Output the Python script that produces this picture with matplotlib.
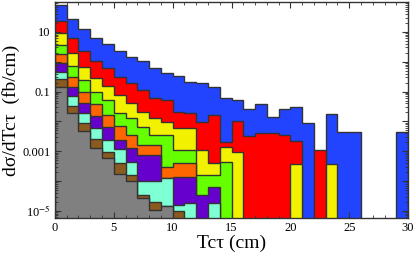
import numpy as np
import matplotlib
matplotlib.use("Agg")
import matplotlib.pyplot as plt
from matplotlib.ticker import FixedLocator, FixedFormatter, LogLocator, MultipleLocator

# -----------------------------------------------------------------------------
# Data: dsigma/dT c tau per 1 cm bin (0..30 cm), one array per curve
# 0 means the curve has no entry in that bin
# -----------------------------------------------------------------------------
edges = np.arange(0, 31, 1)

blue = [80, 26.7, 12.3, 6.4, 3.9, 2.2, 1.48, 1.06, 0.60, 0.43,
        0.333, 0.214, 0.189, 0.139, 0.0622, 0.052, 0.0266, 0.0382, 0.0137, 0.0266,
        0.031, 0.0090, 0, 0.0176, 0.00449, 0.00449, 0, 0, 0, 0.00449]
red = [23.4, 6.14, 2.36, 1.09, 0.60, 0.315, 0.198, 0.113, 0.0608, 0.052,
       0.0211, 0.0186, 0.00972, 0.0163, 0.00207, 0.0105, 0.00322, 0.00415, 0.00415, 0.0034,
       0.0022, 0, 0.00109, 0, 0, 0, 0, 0, 0, 0]
yellow = [9.04, 1.93, 0.684, 0.279, 0.154, 0.0766, 0.0403, 0.0211, 0.0129, 0.0097,
          0.00598, 0.00598, 0.00109, 0.00039, 0.00141, 0.000934, 0, 0, 0, 0,
          0.00037, 0, 0, 0.00037, 0, 0, 0, 0, 0, 0]
green = [3.66, 0.739, 0.244, 0.0989, 0.052, 0.0186, 0.0127, 0.0063, 0.00348, 0.00348,
         0.00109, 0.00109, 0.000158, 0.000158, 0.000441, 0, 0, 0, 0, 0,
         0, 0, 0, 0, 0, 0, 0, 0, 0, 0]
orange = [1.78, 0.315, 0.0989, 0.0382, 0.0163, 0.00697, 0.00348, 0.0016, 0.0016, 0.0003,
          0.00039, 0.00039, 0, 0, 0, 0, 0, 0, 0, 0,
          0, 0, 0, 0, 0, 0, 0, 0, 0, 0]
purple = [0.889, 0.146, 0.0403, 0.0151, 0.0063, 0.00236, 0.00124, 0.00074, 0.00074, 0.000125,
          0.000132, 0.000132, 3.36e-5, 6.38e-5, 0, 0, 0, 0, 0, 0,
          0, 0, 0, 0, 0, 0, 0, 0, 0, 0]
aqua = [0.464, 0.0709, 0.0186, 0.00612, 0.00236, 0.00115, 0.000441, 0.000102, 0.000102, 0.000122,
        1.55e-5, 1.77e-5, 0, 1.77e-5, 0, 0, 0, 0, 0, 0,
        0, 0, 0, 0, 0, 0, 0, 0, 0, 0]
brown = [0.258, 0.0327, 0.0086, 0.0025, 0.000956, 0.00039, 0.000158, 3.36e-5, 2.0e-5, 1.44e-5,
         1.0e-5, 0, 0, 0, 0, 0, 0, 0, 0, 0,
         0, 0, 0, 0, 0, 0, 0, 0, 0, 0]
gray = [0.139, 0.0186, 0.00474, 0.0013, 0.000574, 0.000171, 0.000102, 2.6e-5, 1.05e-5, 1.44e-5,
        0, 0, 0, 0, 0, 0, 0, 0, 0, 0,
        0, 0, 0, 0, 0, 0, 0, 0, 0, 0]

series = [blue, red, yellow, green, orange, purple, aqua, brown, gray]
colors = ['#2244ff', '#ff0000', '#f2f200', '#66ff00', '#ff6600',
          '#6600cc', '#7fffd4', '#8b5a1e', '#808080']

# -----------------------------------------------------------------------------
# Plot
# -----------------------------------------------------------------------------
plt.rcParams['font.family'] = ['Liberation Serif', 'DejaVu Serif']
plt.rcParams['mathtext.fontset'] = 'stix'

fig = plt.figure(figsize=(4.16, 2.56), dpi=100)
ax = fig.add_axes([0.132, 0.148, 0.849, 0.844])

floor = 1e-8
for vals, col in zip(series, colors):
    v = np.array(vals, dtype=float)
    v = np.where(v > 0, v, floor)
    ax.stairs(v, edges, baseline=floor, fill=True, facecolor=col,
              edgecolor='#333333', linewidth=1.0)

ax.set_yscale('log')
ax.set_xlim(0, 30)
ax.set_ylim(5.7e-6, 100)

# ticks
ax.xaxis.set_major_locator(MultipleLocator(5))
ax.xaxis.set_minor_locator(MultipleLocator(1))
ax.yaxis.set_major_locator(FixedLocator([1e-5, 1e-4, 1e-3, 1e-2, 1e-1, 1, 10]))
ax.yaxis.set_major_formatter(FixedFormatter([r'10$^{-5}$', '', '0.001', '', '0.1', '', '10']))
ax.yaxis.set_minor_locator(LogLocator(base=10, subs=np.arange(2, 10)))
ax.yaxis.set_minor_formatter(FixedFormatter([]))
ax.tick_params(which='both', direction='in', top=True, right=True,
               labelsize=9, color='#333333', pad=3)
ax.tick_params(which='major', length=4, width=0.8)
ax.tick_params(which='minor', length=2, width=0.6)
for s in ax.spines.values():
    s.set_color('#333333')
    s.set_linewidth(1.0)

ax.set_xlabel('Tcτ (cm)', fontsize=14, labelpad=0)
ax.set_ylabel('dσ/dTcτ  (fb/cm)', fontsize=14, labelpad=2)

fig.savefig('out.png', dpi=100)
